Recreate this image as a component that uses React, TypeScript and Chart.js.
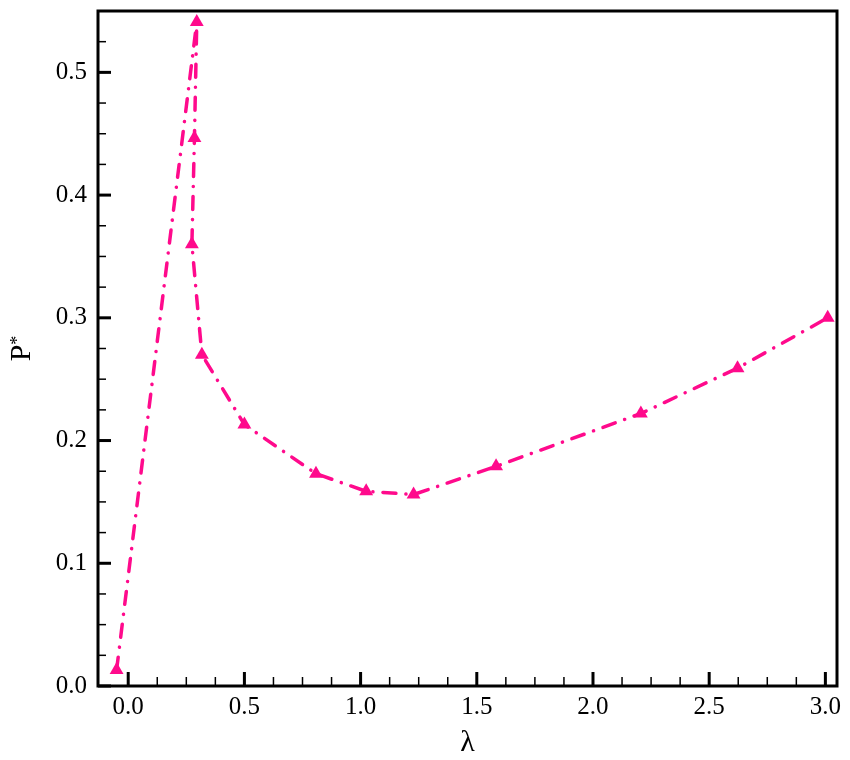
import React, { useEffect, useRef } from "react";
import { Chart, registerables } from "chart.js";

Chart.register(...registerables);

// lambda values, in the order the curve is drawn
const lambda = [-0.05, 0.295, 0.285, 0.274, 0.317, 0.5, 0.808, 1.024, 1.228, 1.583, 2.206, 2.622, 3.01];
// P* values
const pStar = [0.013, 0.541, 0.4465, 0.36, 0.27, 0.213, 0.173, 0.1586, 0.156, 0.179, 0.222, 0.259, 0.3];

const xMajor = [0, 0.5, 1.0, 1.5, 2.0, 2.5, 3.0];
const xMinorStep = 0.125;
const yMinorStep = 0.025;

const PINK = "#ff0a8c";
const FONT = "'Liberation Serif', 'Times New Roman', serif";

// frame, inward ticks and axis titles
const framePlugin = {
  id: "frameTicks",
  afterDatasetsDraw(chart: any) {
    const { ctx, chartArea: a, scales } = chart;
    const xs = scales.x;
    const ys = scales.y;
    ctx.save();
    ctx.strokeStyle = "#000";

    // minor ticks
    ctx.lineWidth = 1.5;
    for (let v = 0; v <= xs.max + 1e-9; v += xMinorStep) {
      const px = xs.getPixelForValue(v);
      if (px < a.left + 2 || px > a.right - 2) continue;
      ctx.beginPath();
      ctx.moveTo(px, a.bottom);
      ctx.lineTo(px, a.bottom - 9);
      ctx.stroke();
    }
    for (let v = 0; v <= ys.max + 1e-9; v += yMinorStep) {
      const py = ys.getPixelForValue(v);
      if (py < a.top + 2 || py > a.bottom - 2) continue;
      ctx.beginPath();
      ctx.moveTo(a.left, py);
      ctx.lineTo(a.left + 8, py);
      ctx.stroke();
    }

    // major ticks
    ctx.lineWidth = 3;
    xMajor.forEach((v) => {
      const px = xs.getPixelForValue(v);
      ctx.beginPath();
      ctx.moveTo(px, a.bottom);
      ctx.lineTo(px, a.bottom - 14);
      ctx.stroke();
    });
    ys.ticks.forEach((t: any) => {
      const py = ys.getPixelForValue(t.value);
      ctx.beginPath();
      ctx.moveTo(a.left, py);
      ctx.lineTo(a.left + 13, py);
      ctx.stroke();
    });

    // frame
    ctx.lineWidth = 3;
    ctx.strokeRect(a.left, a.top, a.right - a.left, a.bottom - a.top);

    // x title
    ctx.fillStyle = "#000";
    ctx.font = `30px ${FONT}`;
    ctx.textAlign = "center";
    ctx.textBaseline = "alphabetic";
    ctx.fillText("λ", (a.left + a.right) / 2, 751);

    // y title: P with a small asterisk
    const cy = (a.top + a.bottom) / 2;
    ctx.translate(30, cy);
    ctx.rotate(-Math.PI / 2);
    ctx.textAlign = "left";
    ctx.font = `30px ${FONT}`;
    const wP = ctx.measureText("P").width;
    ctx.font = `18px ${FONT}`;
    const wS = ctx.measureText("*").width;
    const x0 = -(wP + wS) / 2;
    ctx.font = `30px ${FONT}`;
    ctx.fillText("P", x0, 0);
    ctx.font = `18px ${FONT}`;
    ctx.fillText("*", x0 + wP, -7);

    ctx.restore();
  },
};

export default function App() {
  const canvasRef = useRef<HTMLCanvasElement>(null);

  useEffect(() => {
    if (!canvasRef.current) return;
    document.body.style.margin = "0";

    const chart = new Chart(canvasRef.current, {
      type: "scatter",
      data: {
        datasets: [
          {
            data: lambda.map((x, i) => ({ x, y: pStar[i] })),
            showLine: true,
            borderColor: PINK,
            borderWidth: 3.5,
            borderDash: [13, 10, 0.1, 10],
            borderCapStyle: "round",
            backgroundColor: PINK,
            pointStyle: "triangle",
            pointRadius: 8,
            pointBorderWidth: 0,
            pointBackgroundColor: PINK,
            clip: false as any,
          },
        ],
      },
      options: {
        animation: false,
        responsive: false,
        maintainAspectRatio: false,
        layout: { padding: { left: 0, top: 11, right: 13, bottom: 0 } },
        plugins: { legend: { display: false }, tooltip: { enabled: false } },
        scales: {
          x: {
            type: "linear",
            min: -0.13,
            max: 3.05,
            grid: { display: false, drawTicks: false },
            border: { display: false },
            ticks: {
              stepSize: 0.5,
              includeBounds: false,
              maxRotation: 0,
              padding: 6,
              color: "#000",
              font: { family: FONT, size: 25 },
              callback: (v: any) => Number(v).toFixed(1),
            },
            afterFit: (s: any) => {
              s.height = 74;
              s.paddingLeft = 0;
              s.paddingRight = 0;
            },
          },
          y: {
            type: "linear",
            min: 0,
            max: 0.55,
            grid: { display: false, drawTicks: false },
            border: { display: false },
            ticks: {
              stepSize: 0.1,
              includeBounds: false,
              padding: 11,
              color: "#000",
              font: { family: FONT, size: 25 },
              callback: (v: any) => Number(v).toFixed(1),
            },
            afterFit: (s: any) => {
              s.width = 98;
              s.paddingTop = 0;
              s.paddingBottom = 0;
            },
          },
        },
      },
      plugins: [framePlugin],
    });

    return () => chart.destroy();
  }, []);

  return (
    <div style={{ position: "absolute", left: 0, top: 0, width: 850, height: 760, background: "#fff" }}>
      <canvas ref={canvasRef} width={850} height={760} style={{ width: 850, height: 760 }} />
    </div>
  );
}
